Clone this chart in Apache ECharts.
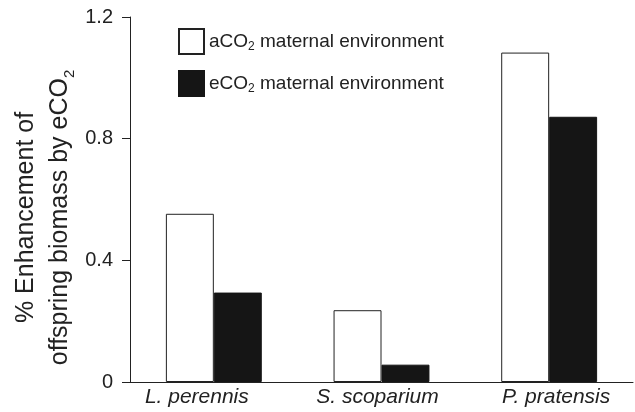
<!DOCTYPE html>
<html>
<head>
<meta charset="utf-8">
<script src="https://cdn.jsdelivr.net/npm/echarts@6/dist/echarts.min.js"></script>
<style>
  html, body { margin: 0; padding: 0; background: #fff; }
  #main { width: 635px; height: 412px; }
</style>
</head>
<body>
<div id="main"></div>
<script>
// species on the x axis
const species = ['L. perennis', 'S. scoparium', 'P. pratensis'];
// enhancement of offspring biomass, per maternal environment
const ambientValues = [0.553, 0.236, 1.083];
const elevatedValues = [0.294, 0.057, 0.872];
const yTicks = [0, 0.4, 0.8, 1.2];

const font = 'Liberation Sans, Arial, sans-serif';

function legendName(name) {
  // aCO2 maternal environment -> subscript 2
  let parts = name.split('CO2');
  return '{n|' + parts[0] + 'CO}{s|2}{n|' + parts[1] + '}';
}

// labels in the original sit a bit off the bar centres
const labelStyle = { fontSize: 21, fontStyle: 'italic', color: '#222', fontFamily: font };

let optionObj = {
  animation: false,
  backgroundColor: '#fff',
  textStyle: { fontFamily: font },
  grid: { left: 130, right: 2, top: 17, bottom: 30, containLabel: false, outerBoundsMode: 'none' },
  legend: {
    orient: 'vertical',
    left: 178,
    top: 28,
    padding: 0,
    itemWidth: 25,
    itemHeight: 25,
    itemGap: 15,
    icon: 'rect',
    data: ['aCO2 maternal environment', 'eCO2 maternal environment'],
    formatter: legendName,
    textStyle: {
      fontSize: 19,
      color: '#222',
      rich: {
        n: { fontSize: 19, fontFamily: font, color: '#222', lineHeight: 22 },
        s: { fontSize: 12, fontFamily: font, color: '#222', lineHeight: 12, verticalAlign: 'bottom' }
      }
    }
  },
  xAxis: {
    type: 'category',
    data: species,
    axisLine: { lineStyle: { color: '#222', width: 1 } },
    axisTick: { show: false },
    axisLabel: {
      interval: 0,
      hideOverlap: false,
      fontSize: 21, fontStyle: 'italic', color: '#222', margin: 5,
      formatter: (v, i) => '{l' + i + '|' + v + '}',
      rich: {
        l0: Object.assign({ padding: [0, 34, 0, 0] }, labelStyle),
        l1: Object.assign({ padding: [0, 8, 0, 0] }, labelStyle),
        l2: Object.assign({ padding: [0, 0, 0, 14] }, labelStyle)
      }
    }
  },
  yAxis: {
    type: 'value',
    min: 0,
    max: 1.2,
    interval: 0.4,
    splitLine: { show: false },
    axisLine: { show: true, lineStyle: { color: '#222', width: 1 } },
    axisTick: { show: true, inside: false, length: 8, lineStyle: { color: '#222' } },
    axisLabel: {
      fontSize: 20, color: '#222', margin: 17,
      formatter: v => yTicks.indexOf(+v.toFixed(1)) >= 0 ? String(+v.toFixed(1)) : ''
    },
    name: '{n|% Enhancement of}\n{n|offspring biomass by eCO}{s|2}',
    nameLocation: 'middle',
    nameRotate: 90,
    nameGap: 53,
    nameMoveOverlap: false,
    nameTextStyle: {
      fontSize: 25,
      color: '#222',
      lineHeight: 34,
      padding: [0, 36, 0, 0],
      rich: {
        n: { fontSize: 25, fontFamily: font, color: '#222', lineHeight: 34 },
        s: { fontSize: 15, fontFamily: font, color: '#222', lineHeight: 15, verticalAlign: 'bottom' }
      }
    }
  },
  series: [
    {
      name: 'aCO2 maternal environment',
      type: 'bar',
      data: ambientValues,
      barGap: '0%',
      barCategoryGap: '42.8%',
      itemStyle: { color: '#fff', borderColor: '#222', borderWidth: 1 }
    },
    {
      name: 'eCO2 maternal environment',
      type: 'bar',
      data: elevatedValues,
      itemStyle: { color: '#151515', borderColor: '#151515', borderWidth: 1 }
    }
  ]
};

let myChart = echarts.init(document.getElementById('main'));
myChart.setOption(optionObj);
</script>
</body>
</html>
